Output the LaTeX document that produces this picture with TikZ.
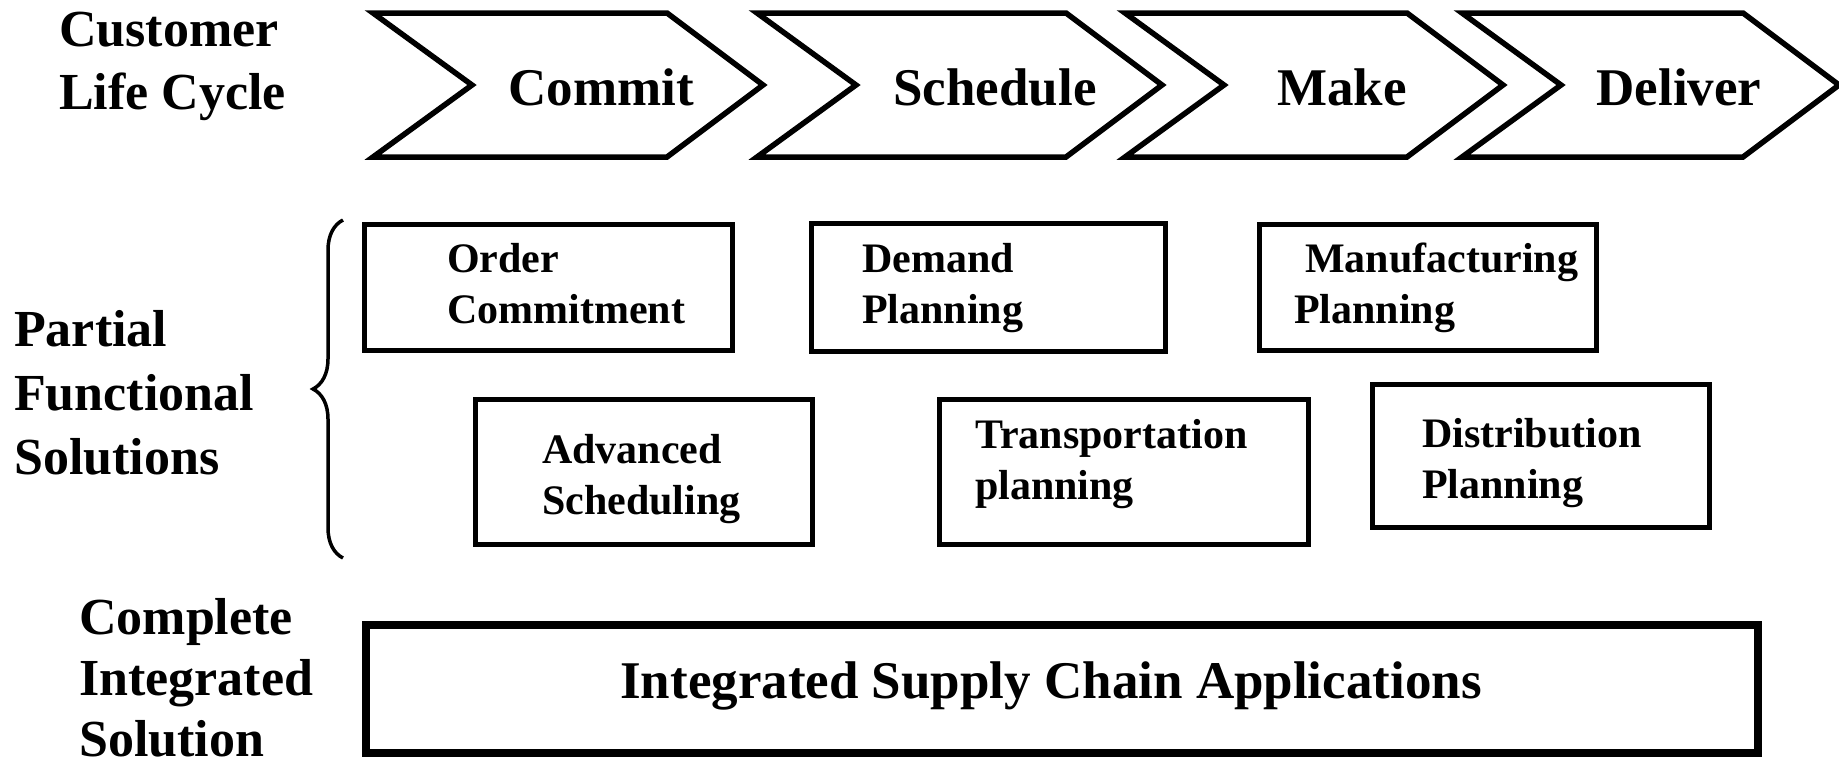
\documentclass[tikz,border=0pt]{standalone}
\usepackage{fontspec}
\setmainfont{Liberation Serif}
\usetikzlibrary{calc,decorations.pathreplacing}

\begin{document}
\begin{tikzpicture}[x=1pt,y=-1pt]

% Looks of the chevrons, the boxes and the texts.
\tikzstyle{chevron}=[line width=5.5pt,line join=miter]
\tikzstyle{fnbox}=[draw,line width=4.5pt,inner sep=0pt,anchor=north west]
\tikzstyle{bigtext}=[inner sep=0pt,font=\fontsize{53}{60}\selectfont\bfseries]
\tikzstyle{boxtext}=[inner sep=0pt,align=left,anchor=base west,font=\fontsize{42}{51}\selectfont\bfseries]
\tikzstyle{sidetext}=[inner sep=0pt,align=left,anchor=base west]

\useasboundingbox (0,0) rectangle (1839,764);

% This draws the life cycle chevrons.
\foreach \l/\r/\c/\name/\txt in {373/667/601/commit/Commit, 757/1066/995/schedule/Schedule, 1125/1407/1342/make/Make, 1462/1743/1679/deliver/Deliver}{
  \draw[chevron] (\l,13) -- (\r,13) -- (\r+96,85) -- (\r,157) -- (\l,157) -- (\l+99,85) -- cycle;
  \node[bigtext,anchor=base] (\name) at (\c,105) {\txt};
}

% This draws the side labels (placed at the baseline of the last line).
\node[sidetext,font=\fontsize{52}{63}\selectfont\bfseries] (lifecycle) at (59,109) {Customer\\Life Cycle};
\node[sidetext,font=\fontsize{52}{64}\selectfont\bfseries] (partial) at (14,474) {Partial\\Functional\\Solutions};
\node[sidetext,font=\fontsize{52}{61}\selectfont\bfseries] (complete) at (79,756) {Complete\\Integrated\\Solution};

% This draws the partial solutions, first row.
\node[fnbox,minimum width=368pt,minimum height=126pt] (orderbox) at (362,222) {};
\node[boxtext] (order) at ($(orderbox.north west)+(85,101)$) {Order\\Commitment};
\node[fnbox,minimum width=354pt,minimum height=128pt] (demandbox) at (809,221) {};
\node[boxtext] (demand) at ($(demandbox.north west)+(53,102)$) {Demand\\Planning};
\node[fnbox,minimum width=337pt,minimum height=126pt] (manufbox) at (1257,222) {};
\node[boxtext] (manuf) at ($(manufbox.north west)+(37,101)$) {\hspace*{11pt}Manufacturing\\Planning};

% Second row.
\node[fnbox,minimum width=337pt,minimum height=145pt] (advbox) at (473,397) {};
\node[boxtext] (adv) at ($(advbox.north west)+(69,117)$) {Advanced\\Scheduling};
\node[fnbox,minimum width=369pt,minimum height=145pt] (transbox) at (937,397) {};
\node[boxtext] (trans) at ($(transbox.north west)+(38,102)$) {Transportation\\planning};
\node[fnbox,minimum width=337pt,minimum height=143pt] (distbox) at (1370,382) {};
\node[boxtext] (dist) at ($(distbox.north west)+(52,116)$) {Distribution\\Planning};

% This draws the brace.
\coordinate (bracetop) at (343,220);
\coordinate (bracebot) at (343,558);
\draw[decorate,decoration={brace,amplitude=30pt},line width=3.5pt] (bracebot) -- (bracetop);

% This draws the complete solution.
\node[fnbox,line width=8pt,minimum width=1392pt,minimum height=128pt] (integratedbox) at (362,621) {};
\node[bigtext,anchor=base] (integrated) at ($(integratedbox.north west)+(689,77)$) {Integrated Supply Chain Applications};

\end{tikzpicture}
\end{document}
